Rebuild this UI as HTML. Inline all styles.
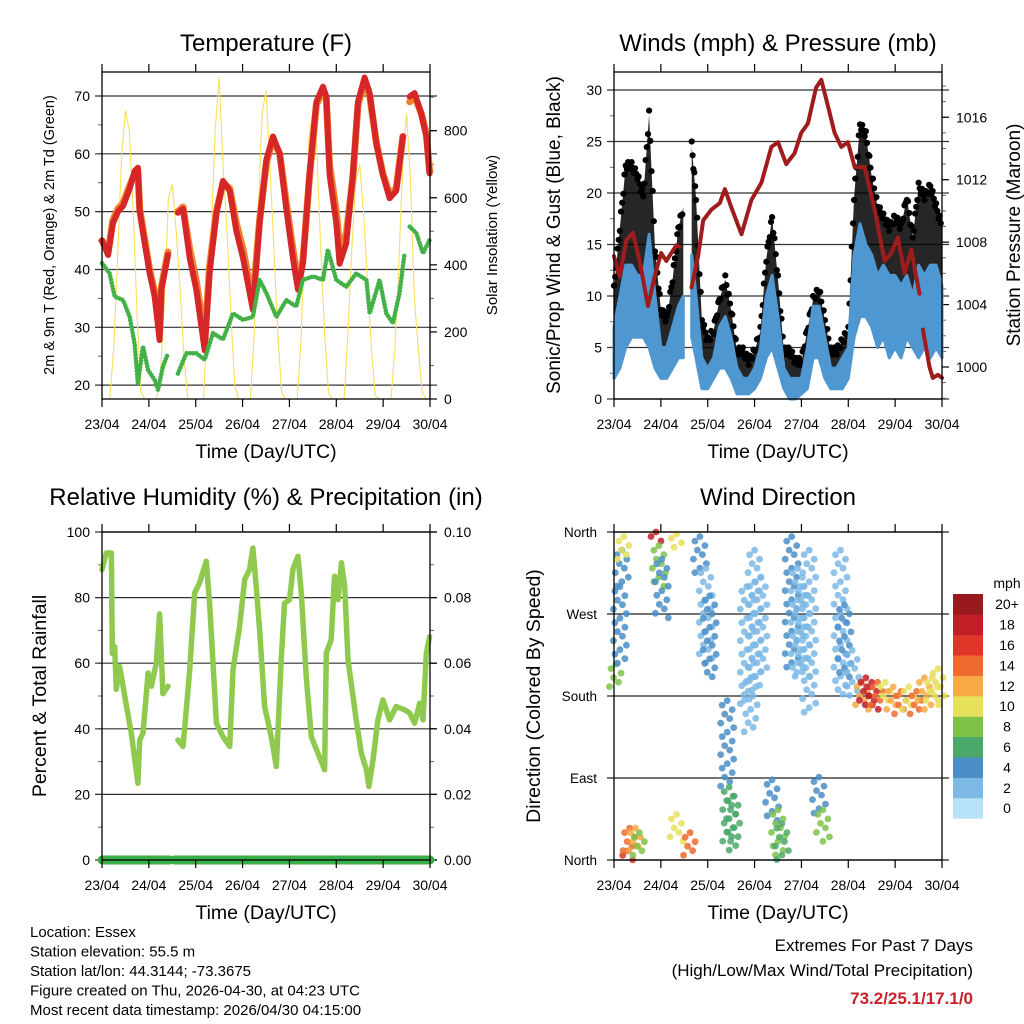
<!DOCTYPE html>
<html><head><meta charset="utf-8"><style>
html,body{margin:0;padding:0;background:#fff}
svg{display:block;font-family:"Liberation Sans",Arial,sans-serif}
</style></head><body>
<svg id="chart" width="1024" height="1024" viewBox="0 0 1024 1024" xmlns="http://www.w3.org/2000/svg">
<rect width="1024" height="1024" fill="#fff"/>
<g id="layer"></g>
</svg>
<script>
// ---- shared ----
const dayLabels = ["23/04","24/04","25/04","26/04","27/04","28/04","29/04","30/04"];

// ---- Temperature panel data (hours since 23/04 00Z) ----
const tempHours = [0,3.1,5.6,8.2,10.8,14.2,16.7,18.4,19.3,21.9,24.4,27.0,29.5,30.4,33.8,null,38.9,41.5,44.9,48.3,52.6,55.1,58.6,62.0,65.4,68.8,72.2,77.3,80.7,84.2,87.6,91.0,94.4,97.8,100.4,102.9,106.3,109.8,113.2,114.9,116.6,120.0,121.7,125.1,128.5,131.1,134.5,137.1,140.5,143.9,147.3,150.7,154.1,null,157.6,160.1,163.5,166.1,167.8];
const temp2m = [45,42.5,48,50,51,54,57,57.6,50,44.5,39.4,35.3,27.8,36.5,42.5,null,49.8,50.5,42,36.5,26,39.4,49.7,55.3,53.6,46.7,42,33,48,59,63,60,50.5,42,36.5,41,56.4,69,71.6,69.9,56.4,48,41,44.5,56.4,69,73.2,70.5,61.8,56.4,52.3,53.6,63,null,69.9,70.5,67,63,56.6];
const temp9m = [45,43,48.5,50.5,51.5,54.5,56.5,57,50.5,45,40,36,29,37,43,null,50,50.8,43.5,38,28,40.5,50,55,54,48,43.5,34.5,48.5,58.5,62.5,60,51.5,43.5,38,41.5,56,68.5,71,69.5,58,50,44,46,56,68.5,72.5,70,62,56.5,53,54,63,null,69,70,67,63.5,57];
const dewHours = [0,3.9,6.5,10.8,14.2,16.7,18.4,21.0,23.6,27.0,28.7,31.2,33.8,null,38.9,43.2,48.3,52.6,56.8,62.0,67.1,72.2,77.3,80.7,84.2,89.3,94.4,99.5,102.9,108.1,113.2,115.7,120.0,125.1,130.2,135.4,137.1,142.2,145.6,149.0,152.4,155.0,null,157.6,161.0,164.4,167.8];
const dewPoint = [41.1,39.3,35.3,34.7,31.8,27.2,20.3,26.7,22.6,20.9,19.2,23.2,25.5,null,22.0,25.5,25.5,24.4,29.0,27.9,32.4,31.3,31.8,38.2,35.9,31.8,34.7,33.6,38.2,38.8,38.2,43.4,38.2,37.0,39.3,38.2,32.4,38.2,32.4,30.7,35.9,42.8,null,47.4,46.3,42.8,45.1];
// solar every 2 h from 0 to 168
const solar = [0,0,0,150,420,720,860,800,560,250,20,0,0,
 0,0,80,300,600,640,500,330,120,0,0,0,
 0,0,250,500,800,960,700,500,250,40,0,0,
 0,0,200,550,850,920,700,450,200,20,0,0,
 0,0,180,500,780,860,750,450,200,20,0,0,
 0,0,200,450,650,700,550,350,150,10,0,0,
 0,0,150,400,700,850,650,300,150,20,0,0];
const tempTicks = [20,30,40,50,60,70];
const solarTicks = [0,200,400,600,800];

// ---- Winds panel data ----
const windHours = [0,3,6,9,12,15,18,21,24,27,30,33,35.5,null,39.8,42,45,48,51,54,57,60,63,66,69,72,75,78,81,84,87,90,93,96,99,102,105,108,111,114,117,120,123,126,129,132,135,138,141,144,147,150,153,156,159,162,165,168];
const windLow  = [2,3,5,6,6,6,5,3,2,2,3,4,4,null,6,4,1,1,2,3,3,2,0.5,0.5,0.5,1,2,4,5,3,1,0,0,0.5,1,4,4,2,1,1,1,2,6,8,8,7,5,6,4,5,4,6,5,4,5,4,5,4];
const windHigh = [7,10,13,13,12,12,16,10,5,5,7,9,10,null,14,10,4,3,4,7,8,6,3,2,2,3,5,10,12,8,3,2,2,2,5,9,9,6,3,3,4,5,14,17,15,14,12,13,12,12,11,12,10,13,12,13,13,11];
const gust     = [11,17,23,23,22,20,28,15,9,8,12,17,19,null,25,20,8,6,7,10,12,9,5,5,4,5,7,14,18,12,5,5,4,4,7,10,11,8,5,5,6,7,20,27,26,22,19,18,17,18,17,20,16,21,20,21,19,17];
const presHours = [0,2.9,6.3,9.7,13.1,17.4,20.8,24.2,26.8,31.9,33.6,null,39.7,43.1,45.7,50.0,54.2,56.8,60.2,65.3,70.4,75.5,80.6,84.0,88.2,92.5,95.9,99.3,103.5,106.2,109.6,113.0,116.4,119.8,123.3,128.4,133.5,138.6,142.0,145.4,148.8,152.2,156.5,null,158.2,161.6,163.3,165.9,168];
const pressure = [1007.1,1005.8,1008.1,1008.6,1006.8,1003.9,1005.8,1007.3,1006.8,1007.8,1007.7,null,1005.1,1007.1,1009.4,1010.1,1010.5,1011.4,1010.2,1008.5,1010.7,1011.8,1014.1,1014.4,1013.0,1013.7,1015.0,1015.6,1017.9,1018.4,1016.7,1015.0,1014.1,1014.4,1012.8,1012.8,1010.1,1006.8,1007.3,1008.3,1006.0,1007.5,1004.7,null,1002.4,1000.0,999.3,999.5,999.3];
const windTicks = [0,5,10,15,20,25,30];
const presTicks = [1000,1004,1008,1012,1016];

// ---- RH panel data ----
const rhHours = [0,2.2,4.8,5.3,6.5,7.3,9.0,10.8,12.5,15.0,18.4,19.3,21.0,23.6,25.3,27.8,29.5,31.2,33.8,null,38.9,41.5,43.2,44.9,47.5,50.0,53.4,55.1,58.6,62.0,65.4,67.1,70.5,73.1,75.6,77.3,79.0,80.7,83.3,86.7,89.3,91.8,93.5,96.1,97.8,100.4,102.1,104.6,107.2,110.6,114.0,114.9,117.4,119.1,120.9,122.6,124.3,126.0,130.2,132.8,135.4,136.7,138.8,141.3,143.9,147.3,150.7,155.0,157.6,160.1,162.7,164.4,166.1,167.8];
const rh = [88.5,93.6,93.6,63,65,52,59,53,47,38.7,23.4,36.6,38.7,57,53,60,75,50.7,53,null,36.6,34.6,45.8,58,81.4,84.5,91.1,78.3,41.7,37.6,34.6,58,71.2,85.5,88.6,95.1,83.4,70.2,46.8,37.6,28.5,61,78.3,79.4,88.6,92.6,81.4,56,37.6,32.6,27.5,63.1,67.2,86.5,79.4,90.6,83.4,61,42.7,32.6,27.5,22.4,30.5,42.7,48.8,42.7,46.8,45.8,44.8,41.7,47.8,42.7,63,68.1];
const precipHours = [0,35,null,37,168];
const precip = [0,0,null,0,0];
const rhTicks = [0,20,40,60,80,100];
const precipTicks = [0,0.02,0.04,0.06,0.08,0.10];

// ---- Wind direction data: [hour, dirMin, dirMax, speed] ----
const dirHours  = [1,3,4,5,7,8,11,13,21.5,23,24.5,32,32,39,44,47,49,58,59,61,68,70,72,75,81,84,86,91,94,97,100,105,107,116,118,122,127,129,132,135,139,143,147,151,155,159,163,166];
const dirMin    = [190,215,300,330,0,10,10,5,348,300,265,340,20,5,315,215,200,80,7,20,170,140,190,200,40,5,0,210,200,200,160,50,20,180,200,180,165,170,165,170,175,165,160,165,160,165,170,175];
const dirMax    = [215,300,340,355,10,35,35,30,360,345,330,358,50,30,355,320,290,175,80,70,300,200,340,310,88,55,40,355,320,300,340,91,55,340,280,230,195,200,195,195,195,190,185,190,185,200,200,210];
const dirSpeed  = [7,4,4,9,16,14,12,8,17,7,4,9,10,14,4,2,3,4,5,6,2,1,1,2,4,8,6,3,2,2,1,4,7,2,4,2,12,17,18,14,10,11,14,10,13,11,9,10];
const speedBins = ["0","2","4","6","8","10","12","14","16","18","20+"];
const speedColors = ["#b7e2f7","#7db9e5","#4a8ec8","#4aa86a","#7ec24a","#e6e05a","#f7a945","#f06a2e","#e0362a","#c01f27","#981a1d"];

// ================= drawing =================
const NS="http://www.w3.org/2000/svg";
const layer=document.getElementById('layer');
function el(tag,attrs,parent){const e=document.createElementNS(NS,tag);for(const k in attrs)e.setAttribute(k,attrs[k]);(parent||layer).appendChild(e);return e;}
function txt(s,attrs,parent){const e=el('text',attrs,parent);e.textContent=s;return e;}

function makeX(p){return h=>p.x0+h/168*(p.x1-p.x0);}
function makeY(p,lo,hi){return v=>p.y1-(v-lo)/(hi-lo)*(p.y1-p.y0);}
function pathFrom(hs,vs,xs,ys){let d="",pen=false;for(let i=0;i<hs.length;i++){if(hs[i]===null||vs[i]===null){pen=false;continue;}d+=(pen?"L":"M")+xs(hs[i]).toFixed(1)+","+ys(vs[i]).toFixed(1);pen=true;}return d;}

function frame(p,g,name){
  const f=el('rect',{x:p.x0,y:p.y0,width:p.x1-p.x0,height:p.y1-p.y0,fill:'none',stroke:'#000','stroke-width':1.3},g);
  
  
  const xs=makeX(p);
  const xg=el('g',{},g);
  
  
  dayLabels.forEach((lab,i)=>{
    const x=xs(i*24);
    el('line',{x1:x,x2:x,y1:p.y1,y2:p.y1+8,stroke:'#000','stroke-width':1.2},xg);
    el('line',{x1:x,x2:x,y1:p.y0,y2:p.y0-8,stroke:'#000','stroke-width':1.2},xg);
    const t=txt(lab,{x:x,y:p.y1+30,'text-anchor':'middle','font-size':14},xg);
    
    
  });
  const xt=txt("Time (Day/UTC)",{x:(p.x0+p.x1)/2,y:p.y1+59,'text-anchor':'middle','font-size':19.5},g);
  
  
}
function leftAxis(p,g,ys,ticks,minorStep,fmt,grid,name){
  const ag=el('g',{},g);
  
  
  if(minorStep){for(let v=ticks[0]-minorStep;v<=ticks[ticks.length-1]+minorStep*1.01;v+=minorStep){const y=ys(v);if(y<p.y0-0.5||y>p.y1+0.5)continue;el('line',{x1:p.x0-4,x2:p.x0,y1:y,y2:y,stroke:'#666','stroke-width':1},ag);}}
  ticks.forEach(v=>{const y=ys(v);
    if(grid) el('line',{x1:p.x0-7,x2:p.x1+7,y1:y,y2:y,stroke:'#333','stroke-width':1.2},ag);
    else el('line',{x1:p.x0-7,x2:p.x0,y1:y,y2:y,stroke:'#000','stroke-width':1.2},ag);
    const t=txt(fmt(v),{x:p.x0-12,y:y+5,'text-anchor':'end','font-size':14},ag);
    
    
  });
}
function rightAxis(p,g,ys,ticks,minorStep,fmt,name){
  const ag=el('g',{},g);
  
  
  if(minorStep){for(let v=ticks[0]-minorStep*4;v<=ticks[ticks.length-1]+minorStep*4;v+=minorStep){const y=ys(v);if(y<p.y0-0.5||y>p.y1+0.5)continue;el('line',{x1:p.x1,x2:p.x1+4,y1:y,y2:y,stroke:'#666','stroke-width':1},ag);}}
  ticks.forEach(v=>{const y=ys(v);
    el('line',{x1:p.x1,x2:p.x1+7,y1:y,y2:y,stroke:'#000','stroke-width':1.2},ag);
    const t=txt(fmt(v),{x:p.x1+14,y:y+5,'font-size':14},ag);
    
    
  });
}
function title(s,x,y,g){const t=txt(s,{x:x,y:y,'text-anchor':'middle','font-size':24},g);}
function vtitle(s,x,y,size,g,name){const t=txt(s,{x:0,y:0,'text-anchor':'middle','font-size':size,transform:`translate(${x},${y}) rotate(-90)`},g);}

// ---------- Temperature ----------
{
 const p={x0:102,x1:430,y0:72,y1:399};
 const g=el('g',{});
 
 
 const xs=makeX(p), ys=makeY(p,17.6,74.15), ss=makeY(p,0,975);
 title("Temperature (F)",266,51,g);
 leftAxis(p,g,ys,tempTicks,5,v=>String(v),true,'temperature-y-axis');
 rightAxis(p,g,ss,solarTicks,100,v=>String(v),'solar-y-axis');
 const sh=solar.map((v,i)=>i*2);
 const s=el('path',{d:pathFrom(sh,solar,xs,ss),fill:'none',stroke:'#f8df5e','stroke-width':1.1},g);
 
 
 const o=el('path',{d:pathFrom(tempHours,temp9m,xs,ys),fill:'none',stroke:'#f2812e','stroke-width':7,'stroke-linejoin':'round','stroke-linecap':'round'},g);
 
 
 const r=el('path',{d:pathFrom(tempHours,temp2m,xs,ys),fill:'none',stroke:'#d62728','stroke-width':6,'stroke-linejoin':'round','stroke-linecap':'round'},g);
 
 
 const d=el('path',{d:pathFrom(dewHours,dewPoint,xs,ys),fill:'none',stroke:'#44b048','stroke-width':4.6,'stroke-dasharray':'0 3.2','stroke-linecap':'round'},g);
 
 
 frame(p,g,'temperature');
 vtitle("2m & 9m T (Red, Orange) & 2m Td (Green)",54,235,14.5,g,'temperature-y-axis-title');
 vtitle("Solar Insolation (Yellow)",497,235,15,g,'solar-y-axis-title');
}

// ---------- Winds ----------
{
 const p={x0:614,x1:942,y0:72,y1:399};
 const g=el('g',{});
 
 
 const xs=makeX(p), ys=makeY(p,0,31.75), ps=makeY(p,997.95,1018.9);
 title("Winds (mph) & Pressure (mb)",778,51,g);
 leftAxis(p,g,ys,windTicks,2.5,v=>String(v),true,'wind-y-axis');
 rightAxis(p,g,ps,presTicks,1,v=>String(v),'pressure-y-axis');
 const segs=[];let cur=[];
 windHours.forEach((h,i)=>{if(h===null){if(cur.length)segs.push(cur);cur=[];}else cur.push(i);});
 if(cur.length)segs.push(cur);
 const gg=el('g',{},g);
 
 
 const bg=el('g',{},g);
 
 
 segs.forEach(idx=>{
   let top="";
   idx.forEach((i,k)=>{top+=(k?"L":"M")+xs(windHours[i]).toFixed(1)+","+(ys(gust[i])+4).toFixed(1);});
   for(let k=idx.length-1;k>=0;k--){const i=idx[k];top+="L"+xs(windHours[i]).toFixed(1)+","+ys(windHigh[i]).toFixed(1);}
   el('path',{d:top+"Z",fill:'#000','fill-opacity':0.85},gg);
   for(let k=0;k<idx.length-1;k++){const a=idx[k],b=idx[k+1];
     for(let t=0;t<1;t+=0.2){const h=windHours[a]+(windHours[b]-windHours[a])*t;const v=gust[a]+(gust[b]-gust[a])*t;
       el('circle',{cx:xs(h).toFixed(1),cy:(ys(v)+((k*5+Math.round(t*5))%3)*3.5).toFixed(1),r:3.1,fill:'#000'},gg);}}
   let band="";
   idx.forEach((i,k)=>{band+=(k?"L":"M")+xs(windHours[i]).toFixed(1)+","+ys(windHigh[i]).toFixed(1);});
   for(let k=idx.length-1;k>=0;k--){const i=idx[k];band+="L"+xs(windHours[i]).toFixed(1)+","+ys(windLow[i]).toFixed(1);}
   el('path',{d:band+"Z",fill:'#4f97d1',stroke:'#4f97d1','stroke-width':3,'stroke-linejoin':'round'},bg);
 });
 const pr=el('path',{d:pathFrom(presHours,pressure,xs,ps),fill:'none',stroke:'#a01c1c','stroke-width':4,'stroke-linejoin':'round','stroke-linecap':'round'},g);
 
 
 frame(p,g,'winds');
 vtitle("Sonic/Prop Wind & Gust (Blue, Black)",560,235,19,g,'wind-y-axis-title');
 vtitle("Station Pressure (Maroon)",1020,235,19,g,'pressure-y-axis-title');
}

// ---------- RH ----------
{
 const p={x0:102,x1:430,y0:532,y1:860};
 const g=el('g',{});
 
 
 const xs=makeX(p), ys=makeY(p,0,100), qs=makeY(p,0,0.10);
 title("Relative Humidity (%) & Precipitation (in)",266,505,g);
 leftAxis(p,g,ys,rhTicks,10,v=>String(v),true,'humidity-y-axis');
 rightAxis(p,g,qs,precipTicks,0.01,v=>v.toFixed(2),'precip-y-axis');
 const r=el('path',{d:pathFrom(rhHours,rh,xs,ys),fill:'none',stroke:'#8fca4f','stroke-width':5.5,'stroke-linejoin':'round','stroke-linecap':'round'},g);
 
 
 const q=el('path',{d:pathFrom(precipHours,precip,xs,qs),fill:'none',stroke:'#3aae48','stroke-width':9,'stroke-linecap':'round'},g);
 
 
 frame(p,g,'humidity');
 vtitle("Percent & Total Rainfall",46,696,19.5,g,'humidity-y-axis-title');
}

// ---------- Wind direction ----------
{
 const p={x0:614,x1:942,y0:532,y1:860};
 const g=el('g',{});
 
 
 const xs=makeX(p), ys=makeY(p,0,360);
 title("Wind Direction",778,505,g);
 const names=["North","East","South","West","North"];
 [0,90,180,270,360].forEach((v,i)=>{const y=ys(v);
   el('line',{x1:p.x0-7,x2:p.x1+7,y1:y,y2:y,stroke:'#222','stroke-width':1.2},g);
   const t=txt(names[i],{x:p.x0-17,y:y+5,'text-anchor':'end','font-size':13.5},g);
   
   
 });
 const dg=el('g',{},g);
 
 
 function col(s){let i=Math.min(10,Math.max(0,Math.round(s/2)));return speedColors[i];}
 const offs=[0,-5,5,-2.5,2.5,-6.5,6.5];
 dirHours.forEach((h,i)=>{
   const y0=ys(dirMin[i]),y1=ys(dirMax[i]);
   let k=0;
   for(let y=y1;y<=y0;y+=4.5){
     const off=offs[k%7];
     el('circle',{cx:(xs(h)+off).toFixed(1),cy:y.toFixed(1),r:3.4,fill:col(dirSpeed[i]),'fill-opacity':0.85},dg);
     k++;
   }
 });
 frame(p,g,'wind-direction');
 vtitle("Direction (Colored By Speed)",540,696,19.5,g,'direction-y-axis-title');
 const lg=el('g',{},g);
 
 
 const lt=txt("mph",{x:1007,y:588,'text-anchor':'middle','font-size':14},lg);
 
 
 const bh=20.4, top=594;
 speedBins.forEach((lab,i)=>{
   const y=top+(10-i)*bh;
   const r=el('rect',{x:953,y:y,width:30,height:bh+0.3,fill:speedColors[i]},lg);
   
   
   const t=txt(lab,{x:1007,y:y+bh/2+5,'text-anchor':'middle','font-size':14},lg);
   
   
 });
}

// ---------- footer ----------
{
 const g=el('g',{});
 
 
 const lines=["Location: Essex","Station elevation: 55.5 m","Station lat/lon: 44.3144; -73.3675","Figure created on Thu, 2026-04-30, at 04:23 UTC","Most recent data timestamp: 2026/04/30 04:15:00"];
 lines.forEach((s,i)=>{const t=txt(s,{x:30,y:937+i*19.5,'font-size':15},g);});
 const e=el('g',{});
 
 
 const a=txt("Extremes For Past 7 Days",{x:973,y:951,'text-anchor':'end','font-size':17},e);
 
 const b=txt("(High/Low/Max Wind/Total Precipitation)",{x:973,y:976,'text-anchor':'end','font-size':17},e);
 
 const c=txt("73.2/25.1/17.1/0",{x:973,y:1004,'text-anchor':'end','font-size':17,'font-weight':'bold',fill:'#c8202a'},e);
 
}
</script>
</body></html>
